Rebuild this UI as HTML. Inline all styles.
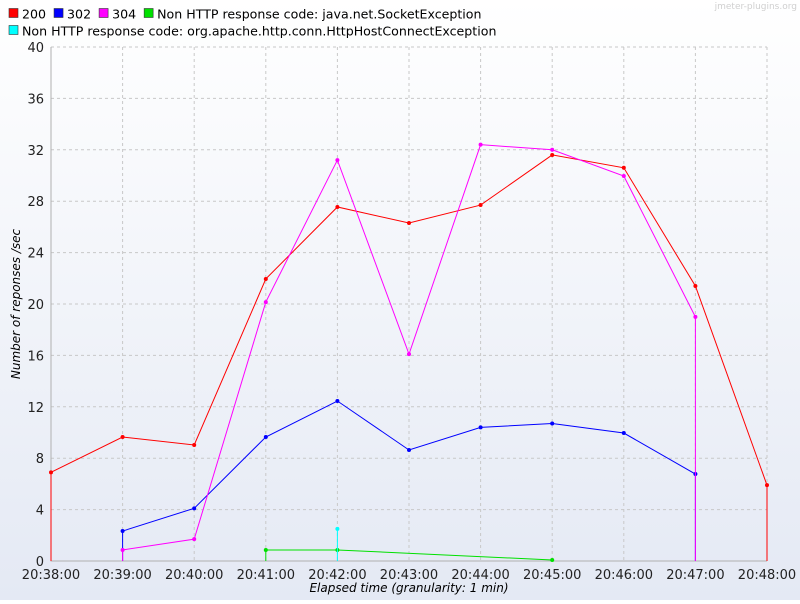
<!DOCTYPE html>
<html><head><meta charset="utf-8"><style>
body{margin:0;width:800px;height:600px;overflow:hidden;font-family:"DejaVu Sans","Liberation Sans",sans-serif;}
svg text{font-family:"DejaVu Sans","Liberation Sans",sans-serif;}
</style></head><body>
<svg id="chart" width="800" height="600" xmlns="http://www.w3.org/2000/svg">
<defs><linearGradient id="bg" x1="0" y1="0" x2="0" y2="1"><stop offset="0" stop-color="#ffffff"/><stop offset="1" stop-color="#e4e9f4"/></linearGradient></defs>
<rect width="800" height="600" fill="url(#bg)"/>
<text x="797" y="9" font-size="9" fill="#d0d0d0" text-anchor="end">jmeter-plugins.org</text>
<g id="legend"></g>
<g id="grid"></g><g id="axes"></g><g id="series"></g>
<text x="20" y="304" font-size="12" font-style="italic" fill="#000" text-anchor="middle" transform="rotate(-90 20 304)">Number of reponses /sec</text>
<text x="409" y="592" font-size="12" font-style="italic" fill="#000" text-anchor="middle">Elapsed time (granularity: 1 min)</text>
</svg>
<script>
const xTickLabels=["20:38:00","20:39:00","20:40:00","20:41:00","20:42:00","20:43:00","20:44:00","20:45:00","20:46:00","20:47:00","20:48:00"];
const yTicks=[0,4,8,12,16,20,24,28,32,36,40];
const seriesNames=["200","302","304","Non HTTP response code: java.net.SocketException","Non HTTP response code: org.apache.http.conn.HttpHostConnectException"];
const seriesColors=["#ff0000","#0000ff","#ff00ff","#00e000","#00ffff"];
const s200X=[0,1,2,3,4,5,6,7,8,9,10];
const s200Y=[6.9,9.65,9.03,21.95,27.55,26.3,27.7,31.6,30.6,21.4,5.9];
const s302X=[1,2,3,4,5,6,7,8,9];
const s302Y=[2.33,4.1,9.65,12.45,8.64,10.4,10.7,9.96,6.77];
const s304X=[1,2,3,4,5,6,7,8,9];
const s304Y=[0.86,1.7,20.15,31.2,16.1,32.4,32.0,29.96,19.0];
const sSockX=[3,4,7];
const sSockY=[0.86,0.86,0.08];
const sHostX=[4];
const sHostY=[2.5];
const NS="http://www.w3.org/2000/svg";
const X0=51,X1=767,Y0=561,Y1=47;
const xs=i=>X0+(X1-X0)*i/10;
const ys=v=>Y0-(Y0-Y1)*v/40;
function mk(t,a,p){const e=document.createElementNS(NS,t);for(const k in a)e.setAttribute(k,a[k]);p.appendChild(e);return e;}
const grid=document.getElementById('grid'),axes=document.getElementById('axes'),ser=document.getElementById('series'),leg=document.getElementById('legend');
yTicks.forEach(v=>{
 if(v>0){const l=mk('line',{x1:X0,x2:X1,y1:ys(v),y2:ys(v),stroke:'#c8c8c8','stroke-dasharray':'3,3'},grid);
 }
 const t=mk('text',{x:44,y:ys(v)+5,'font-size':13,'text-anchor':'end',fill:'#222'},axes);t.textContent=v;
 
});
xTickLabels.forEach((s,i)=>{
 if(i>0){const l=mk('line',{x1:xs(i),x2:xs(i),y1:Y1,y2:Y0,stroke:'#c8c8c8','stroke-dasharray':'3,3'},grid);
 }
 const t=mk('text',{x:xs(i),y:579,'font-size':13,'text-anchor':'middle',fill:'#222'},axes);t.textContent=s;
 
});
const ax=mk('path',{d:`M${X0},${Y1}V${Y0}H${X1}`,fill:'none',stroke:'#b0b0b0'},axes);

const all=[[s200X,s200Y],[s302X,s302Y],[s304X,s304Y],[sSockX,sSockY],[sHostX,sHostY]];
all.forEach(([X,Y],k)=>{
 const c=seriesColors[k];
 const g=mk('g',{},ser);
 let d=`M${xs(X[0])},${ys(0)}`;X.forEach((x,i)=>d+=`L${xs(x)},${ys(Y[i])}`);d+=`L${xs(X[X.length-1])},${ys(0)}`;
 const p=mk('path',{d:d,fill:'none',stroke:c,'stroke-width':1},g);
 
 X.forEach((x,i)=>{const m=mk('circle',{cx:xs(x),cy:ys(Y[i]),r:2,fill:c},g);
 });
});
const rows=[[0,1,2,3],[4]];
rows.forEach((r,ri)=>{let x=9;const y=ri===0?14:31;
 r.forEach(k=>{
  const b=mk('rect',{x:x,y:y-5.5,width:9,height:9,fill:seriesColors[k],stroke:'#333','stroke-width':0.6},leg);
  
  const t=mk('text',{x:x+13,y:y+4.5,'font-size':12.6,fill:'#000'},leg);t.textContent=seriesNames[k];
  
  x+=13+t.getComputedTextLength()+8;
 });
});
</script>
</body></html>
